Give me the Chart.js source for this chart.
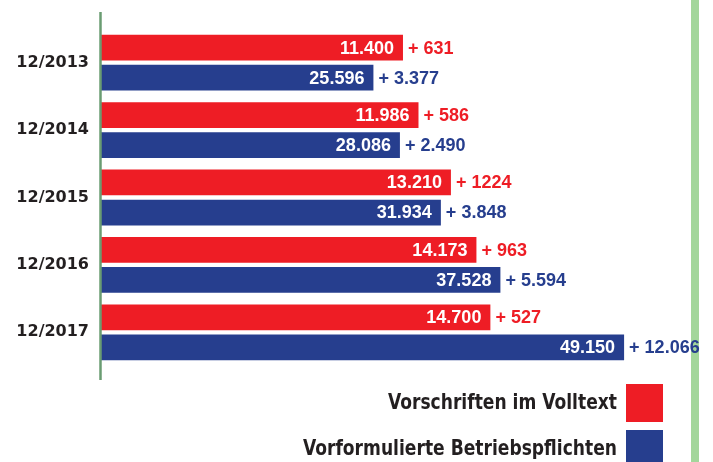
<!DOCTYPE html>
<html>
<head>
<meta charset="utf-8">
<script src="https://cdn.jsdelivr.net/npm/chart.js@4/dist/chart.umd.min.js"></script>
<style>
  html, body { margin: 0; padding: 0; background: #ffffff; }
  #wrap { width: 713px; height: 462px; position: relative; }
</style>
</head>
<body>
<div id="wrap"><canvas id="c" width="713" height="462"></canvas></div>
<script>
const categories = ['12/2013', '12/2014', '12/2015', '12/2016', '12/2017'];
const volltextLabel = 'Vorschriften im Volltext';
const betriebLabel = 'Vorformulierte Betriebspflichten';
const volltext = [11400, 11986, 13210, 14173, 14700];
const betriebspflichten = [25596, 28086, 31934, 37528, 49150];
const volltextZuwachs = ['+ 631', '+ 586', '+ 1224', '+ 963', '+ 527'];
const betriebZuwachs = ['+ 3.377', '+ 2.490', '+ 3.848', '+ 5.594', '+ 12.066'];

const RED = '#ee1d25';
const BLUE = '#263e8e';
const TEXT = '#231f20';
const VALUE_FONT = 'bold 18px "Liberation Sans", Arial, sans-serif';
const LEGEND_FONT = 'bold 22px "DejaVu Sans Condensed", "Liberation Sans", sans-serif';

function fmt(n) {
  return String(n).replace(/\B(?=(\d{3})+(?!\d))/g, '.');
}

const frame = {
  id: 'frame',
  beforeDraw(chart) {
    const ctx = chart.ctx;
    ctx.save();
    ctx.fillStyle = '#a3d69b';
    ctx.fillRect(691, 0, 8, chart.height);
    ctx.restore();
  },
  afterDraw(chart) {
    const ctx = chart.ctx;
    const area = chart.chartArea;
    ctx.save();
    ctx.strokeStyle = '#6a9c72';
    ctx.lineWidth = 2.5;
    ctx.beginPath();
    ctx.moveTo(area.left - 0.5, 12);
    ctx.lineTo(area.left - 0.5, 380);
    ctx.stroke();
    ctx.restore();
  }
};

const barLabels = {
  id: 'barLabels',
  afterDatasetsDraw(chart) {
    const ctx = chart.ctx;
    ctx.save();
    ctx.font = VALUE_FONT;
    ctx.textBaseline = 'middle';
    chart.data.datasets.forEach((ds, di) => {
      const meta = chart.getDatasetMeta(di);
      meta.data.forEach((bar, i) => {
        ctx.fillStyle = '#ffffff';
        ctx.textAlign = 'right';
        ctx.fillText(fmt(ds.data[i]), bar.x - 9, bar.y + 1);
        ctx.fillStyle = ds.backgroundColor;
        ctx.textAlign = 'left';
        ctx.fillText(ds.zuwachs[i], bar.x + 5, bar.y + 1);
      });
    });
    ctx.restore();
  }
};

const sideLegend = {
  id: 'sideLegend',
  afterDraw(chart) {
    const ctx = chart.ctx;
    const rows = [384, 430];
    chart.data.datasets.forEach((ds, di) => {
      const top = rows[di];
      ctx.save();
      ctx.fillStyle = ds.backgroundColor;
      ctx.fillRect(626, top, 37, 38);
      ctx.font = LEGEND_FONT;
      ctx.textBaseline = 'middle';
      ctx.textAlign = 'right';
      ctx.fillStyle = TEXT;
      ctx.translate(617, top + 19);
      ctx.scale(0.865, 1);
      ctx.fillText(ds.label, 0, 0);
      ctx.restore();
    });
  }
};

new Chart(document.getElementById('c'), {
  type: 'bar',
  data: {
    labels: categories,
    datasets: [
      { label: volltextLabel, data: volltext, zuwachs: volltextZuwachs,
        backgroundColor: RED, xAxisID: 'xRed', borderWidth: 0 },
      { label: betriebLabel, data: betriebspflichten, zuwachs: betriebZuwachs,
        backgroundColor: BLUE, xAxisID: 'xBlue', borderWidth: 0 }
    ]
  },
  options: {
    indexAxis: 'y',
    responsive: false,
    animation: false,
    maintainAspectRatio: false,
    categoryPercentage: 0.8915,
    barPercentage: 0.857,
    layout: { padding: { top: 29, bottom: 96, left: 0, right: 16 } },
    plugins: {
      legend: { display: false },
      tooltip: { enabled: false },
      title: { display: false }
    },
    scales: {
      xRed: { type: 'linear', display: false, min: 0, max: 22500 },
      xBlue: { type: 'linear', display: false, min: 0, max: 56000 },
      y: {
        type: 'category',
        grid: { display: false, drawTicks: false },
        border: { display: false },
        ticks: {
          color: TEXT,
          padding: 12,
          font: { family: '"DejaVu Sans", sans-serif', weight: 'bold', size: 16 }
        },
        afterFit(scale) { scale.width = 101; }
      }
    }
  },
  plugins: [frame, barLabels, sideLegend]
});
</script>
</body>
</html>
